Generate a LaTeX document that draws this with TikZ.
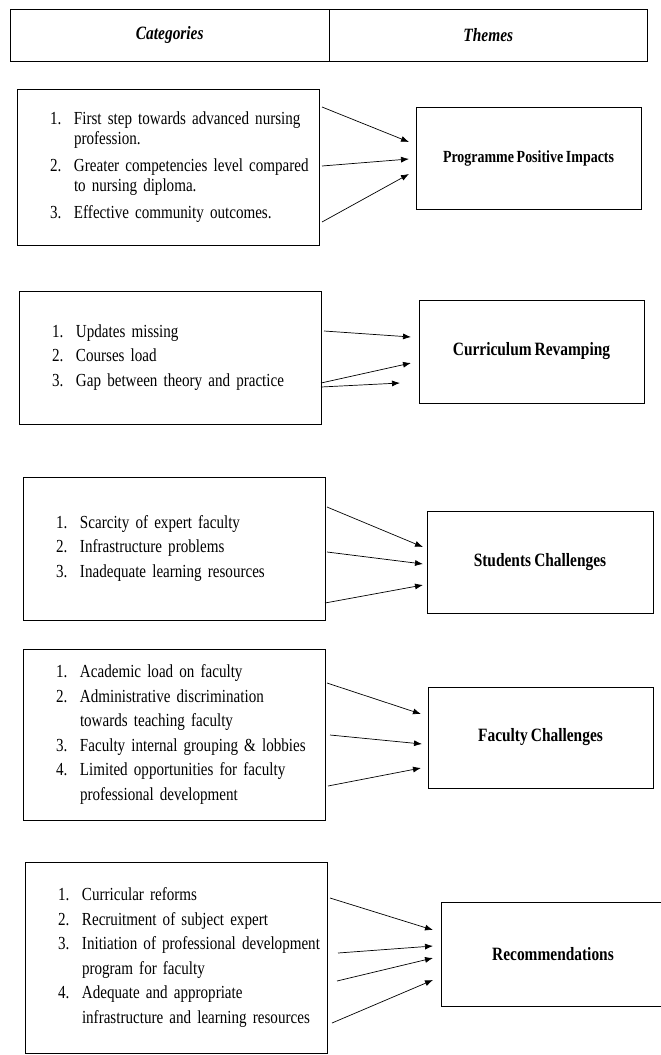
\documentclass[tikz,border=0pt]{standalone}
\usepackage{fontspec}
\setmainfont{Liberation Serif}[FakeStretch=0.82, WordSpace=0.8]
\usetikzlibrary{positioning,calc,arrows,arrows.meta}

\newcommand{\itm}[2]{\hspace*{33pt}\makebox[24pt][l]{#1}\mbox{#2}}
\newcommand{\cnt}[1]{\hspace*{57pt}\mbox{#1}}

\tikzset{
  catbox/.style={draw, line width=0.8pt, text width=302pt, inner xsep=0pt, align=left,
    anchor=north west, outer sep=0pt, font=\fontsize{18.4}{24.6}\selectfont},
  themebox/.style={draw, line width=0.8pt, minimum width=225pt, minimum height=102pt,
    anchor=north west, outer sep=0pt, font=\fontsize{18.8}{20}\selectfont\bfseries},
  headcell/.style={draw, line width=0.8pt, minimum width=318.5pt, minimum height=52pt,
    outer sep=0pt, font=\fontsize{18.8}{20}\selectfont\bfseries\itshape},
  arr/.style={-{Latex[length=8pt,width=6pt]}, line width=0.7pt}
}

\begin{document}
\begin{tikzpicture}[x=1pt,y=-1pt]
  \useasboundingbox (0,0) rectangle (661,1055);

  \node[headcell, anchor=north west] (hcat) at (10.5,9) {Categories};
  \node[headcell, right=0pt of hcat] (hthm) {Themes};

  % categories
  \node[catbox, minimum height=156pt, font=\fontsize{18.4}{20}\selectfont] (cat1) at (17,89)
    {\itm{1.}{First step towards advanced nursing}\\ \cnt{profession.}\\[7pt]
     \itm{2.}{Greater competencies level compared}\\ \cnt{to nursing diploma.}\\[7pt]
     \itm{3.}{Effective community outcomes.}};
  \node[catbox, minimum height=133pt] (cat2) at (19,291)
    {\itm{1.}{Updates missing}\\ \itm{2.}{Courses load}\\ \itm{3.}{Gap between theory and practice}};
  \node[catbox, minimum height=143pt] (cat3) at (23,477)
    {\itm{1.}{Scarcity of expert faculty}\\ \itm{2.}{Infrastructure problems}\\ \itm{3.}{Inadequate learning resources}};
  \node[catbox, minimum height=171pt] (cat4) at (23,649)
    {\itm{1.}{Academic load on faculty}\\ \itm{2.}{Administrative discrimination}\\ \cnt{towards teaching faculty}\\
     \itm{3.}{Faculty internal grouping \& lobbies}\\ \itm{4.}{Limited opportunities for faculty}\\ \cnt{professional development}};
  \node[catbox, minimum height=191pt] (cat5) at (25,862)
    {\itm{1.}{Curricular reforms}\\ \itm{2.}{Recruitment of subject expert}\\ \itm{3.}{Initiation of professional development}\\
     \cnt{program for faculty}\\ \itm{4.}{Adequate and appropriate}\\ \cnt{infrastructure and learning resources}};

  % themes
  \node[themebox, font=\fontsize{17}{18}\selectfont\bfseries] (thm1) at (416,107) {Programme Positive Impacts};
  \node[themebox, minimum height=103pt] (thm2) at (419,300) {Curriculum Revamping};
  \node[themebox, minimum width=226pt] (thm3) at (427,511) {Students Challenges};
  \node[themebox, minimum height=101pt] (thm4) at (428,687) {Faculty Challenges};
  \node[themebox, minimum width=224pt, minimum height=104pt] (thm5) at (441,902) {Recommendations};

  \draw[arr] ($(cat1.north east)+(3,18)$) -- ($(thm1.north west)+(-7,35)$);
  \draw[arr] ($(cat1.north east)+(3,77)$) -- ($(thm1.north west)+(-7,52)$);
  \draw[arr] ($(cat1.north east)+(3,133)$) -- ($(thm1.north west)+(-7,67)$);

  \draw[arr] ($(cat2.north east)+(3,40)$) -- ($(thm2.north west)+(-8,37)$);
  \draw[arr] ($(cat2.north east)+(0,92)$) -- ($(thm2.north west)+(-8,63)$);
  \draw[arr] ($(cat2.north east)+(0,96)$) -- ($(thm2.north west)+(-19,83)$);

  \draw[arr] ($(cat3.north east)+(2,30)$) -- ($(thm3.north west)+(-4,36)$);
  \draw[arr] ($(cat3.north east)+(2,75)$) -- ($(thm3.north west)+(-4,53)$);
  \draw[arr] ($(cat3.north east)+(0,126)$) -- ($(thm3.north west)+(-4,74)$);

  \draw[arr] ($(cat4.north east)+(2,34)$) -- ($(thm4.north west)+(-7,27)$);
  \draw[arr] ($(cat4.north east)+(5,86)$) -- ($(thm4.north west)+(-6,57)$);
  \draw[arr] ($(cat4.north east)+(3,137)$) -- ($(thm4.north west)+(-7,81)$);

  \draw[arr] ($(cat5.north east)+(3,36)$) -- ($(thm5.north west)+(-8,28)$);
  \draw[arr] ($(cat5.north east)+(11,91)$) -- ($(thm5.north west)+(-8,44)$);
  \draw[arr] ($(cat5.north east)+(10,119)$) -- ($(thm5.north west)+(-8,56)$);
  \draw[arr] ($(cat5.north east)+(5,161)$) -- ($(thm5.north west)+(-8,78)$);
\end{tikzpicture}
\end{document}
